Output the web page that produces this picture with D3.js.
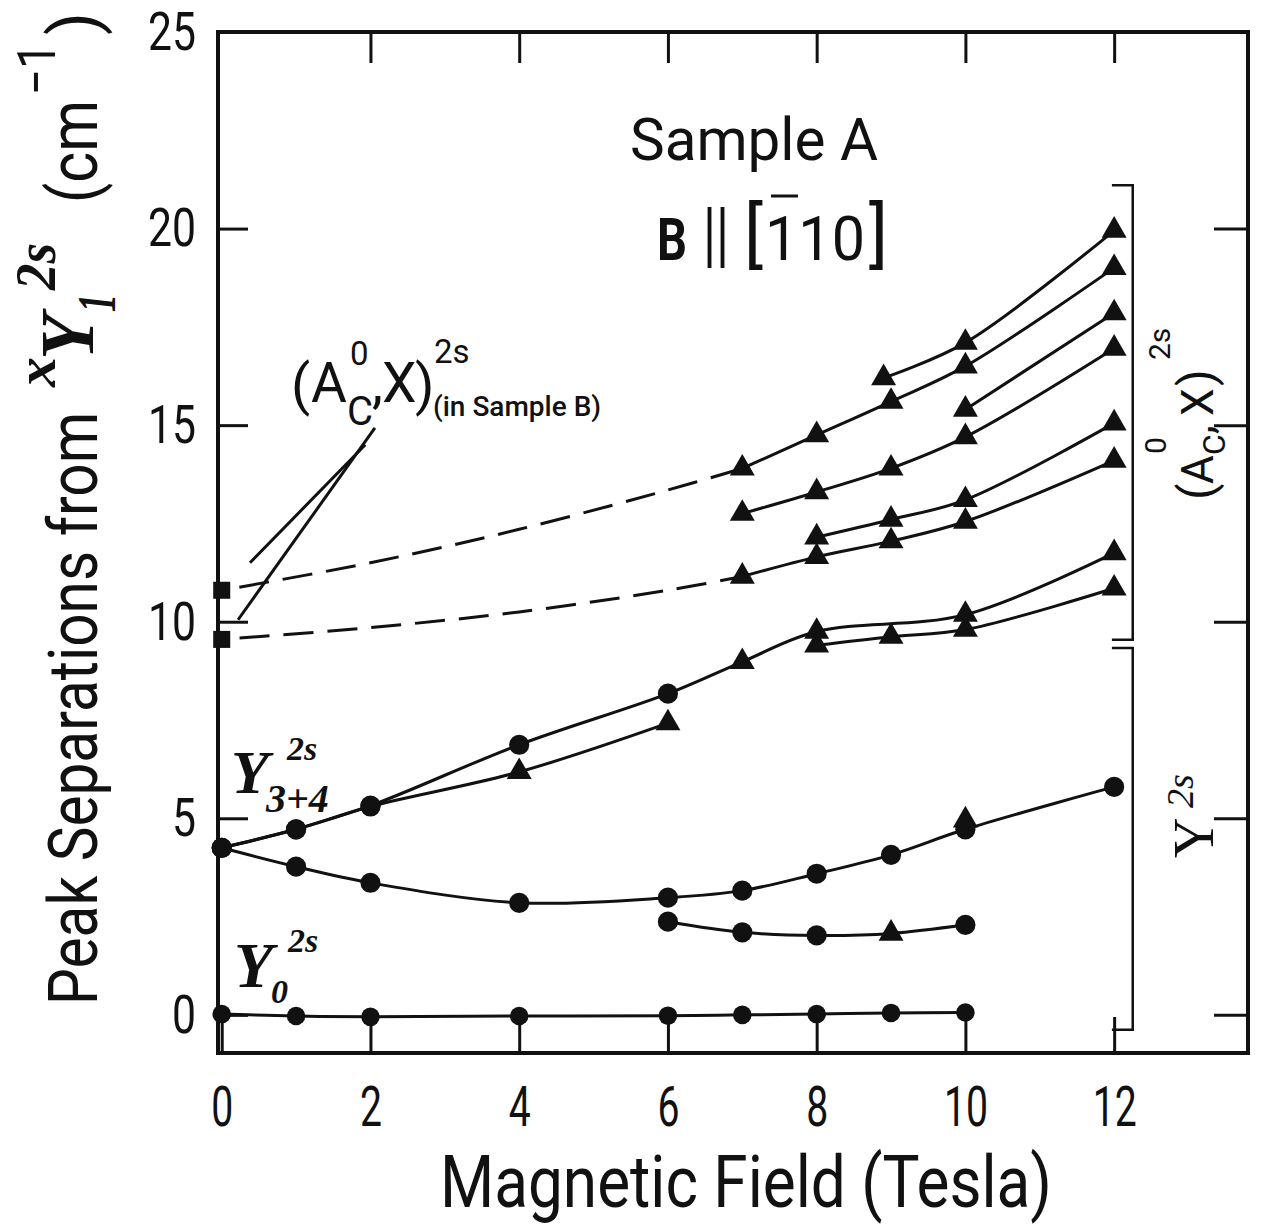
<!DOCTYPE html>
<html><head><meta charset="utf-8">
<script src="https://cdn.jsdelivr.net/npm/d3@7"></script>
<style>body{margin:0;background:#fff}</style>
</head><body>
<svg id="chart" width="1263" height="1230"></svg>
<script>
// ---------------- data ----------------
const xTicks = [0, 2, 4, 6, 8, 10, 12];
const yTicks = [0, 5, 10, 15, 20, 25];

// Y0 2s
const fieldY0 = [0, 1, 2, 4, 6, 7, 8, 9, 10];
const sepY0   = [0.02, -0.03, -0.05, -0.03, -0.02, 0.0, 0.02, 0.05, 0.06];

// lower Y 2s branch
const fieldYlow = [0, 1, 2, 4, 6, 7, 8, 9, 10, 12];
const sepYlow   = [4.25, 3.77, 3.36, 2.85, 2.98, 3.16, 3.59, 4.07, 4.72, 5.8];

const fieldYlow2 = [6, 7, 8, 9, 10];
const sepYlow2   = [2.37, 2.1, 2.02, 2.07, 2.29];
const markYlow2  = ["c", "c", "c", "t", "c"];

// Y3+4 2s branches
const fieldY34a = [0, 1, 2, 4, 6, 7, 8, 10, 12];
const sepY34a   = [4.25, 4.72, 5.32, 6.87, 8.17, 8.98, 9.75, 10.18, 11.75];
const markY34a  = ["c", "c", "c", "c", "c", "t", "t", "t", "t"];

const fieldY34b = [0, 1, 2, 4, 6];
const sepY34b   = [4.25, 4.72, 5.3, 6.18, 7.42];
const markY34b  = ["c", "c", "c", "t", "t"];

const fieldY34c = [8, 9, 10, 12];
const sepY34c   = [9.4, 9.62, 9.8, 10.85];

// (A_C^0,X) 2s lines (Sample A, triangles)
const fieldAX1 = [8.9, 10, 12];        const sepAX1 = [16.2, 17.1, 19.95];
const fieldAX2 = [7, 8, 9, 10, 12];    const sepAX2 = [13.9, 14.75, 15.6, 16.5, 19.0];
const fieldAX3 = [10, 12];             const sepAX3 = [15.4, 17.85];
const fieldAX4 = [7, 8, 9, 10, 12];    const sepAX4 = [12.75, 13.3, 13.9, 14.7, 16.95];
const fieldAX5 = [8, 9, 10, 12];       const sepAX5 = [12.15, 12.6, 13.1, 15.05];
const fieldAX6 = [7, 8, 9, 10, 12];    const sepAX6 = [11.15, 11.65, 12.05, 12.55, 14.1];

// dashed (Sample B) traces
const fieldDashU = [0, 2, 4, 6, 7];    const sepDashU = [10.8, 11.5, 12.35, 13.35, 13.9];
const fieldDashL = [0, 2, 4, 6, 7];    const sepDashL = [9.55, 9.85, 10.25, 10.8, 11.15];
const fieldSqB = [0, 0];               const sepSqB = [10.8, 9.55];

// extra overlapping triangle
const fieldExtraT = [10];              const sepExtraT = [4.95];

// annotation geometry (data units)
const pointer1 = [[0.38, 11.5], [1.93, 14.5]];
const pointer2 = [[0.22, 10.05], [2.06, 14.93]];
const bracketUpper = [21.1, 9.54];
const bracketLower = [9.33, -0.38];
const bracketX = [11.97, 12.25];

// ---------------- chart ----------------
const svg = d3.select("#chart");
const INK = "#111";
const SANS = "Roboto, 'Open Sans', sans-serif";
const SERIF = "'Liberation Serif', 'DejaVu Serif', serif";

const x = d3.scaleLinear().domain([-0.05, 13.8]).range([218, 1248]);
const y = d3.scaleLinear().domain([-0.97, 25]).range([1053, 32]);

const zip = (xs, ys, ms) => xs.map((v, i) => ({ x: v, y: ys[i], m: ms ? ms[i] : null }));

// axes
const axStyle = g => {
  g.select(".domain").remove();
  g.selectAll(".tick line").attr("stroke", INK).attr("stroke-width", 3);
};
svg.append("g").attr("transform", `translate(0,${y.range()[0]})`)
  .call(d3.axisBottom(x).tickValues(xTicks).tickSize(-36).tickPadding(33).tickFormat(d3.format("d")))
  .call(axStyle)
  .call(g => g.selectAll("text").attr("font-family", SANS).attr("font-size", 56).attr("fill", INK)
      .attr("textLength", d => String(d).length * 22).attr("lengthAdjust", "spacingAndGlyphs"));
svg.append("g").attr("transform", `translate(0,${y.range()[1]})`)
  .call(d3.axisTop(x).tickValues(xTicks.slice(1)).tickSize(-31).tickFormat(""))
  .call(axStyle);
svg.append("g").attr("transform", `translate(${x.range()[0]},0)`)
  .call(d3.axisLeft(y).tickValues(yTicks).tickSize(-30).tickPadding(22).tickFormat(d3.format("d")))
  .call(axStyle)
  .call(g => g.selectAll("text").attr("font-family", SANS).attr("font-size", 54).attr("fill", INK)
      .attr("textLength", d => String(d).length * 24).attr("lengthAdjust", "spacingAndGlyphs"));
svg.append("g").attr("transform", `translate(${x.range()[1]},0)`)
  .call(d3.axisRight(y).tickValues(yTicks.slice(0, 5)).tickSize(-34).tickFormat(""))
  .call(axStyle);

// frame
svg.append("rect").attr("x", x.range()[0]).attr("y", y.range()[1])
  .attr("width", x.range()[1] - x.range()[0]).attr("height", y.range()[0] - y.range()[1])
  .attr("fill", "none").attr("stroke", INK).attr("stroke-width", 4);

// lines
const line = d3.line().x(d => x(d.x)).y(d => y(d.y)).curve(d3.curveCatmullRom.alpha(0.5));
const solidSeries = [
  zip(fieldY0, sepY0), zip(fieldYlow, sepYlow), zip(fieldYlow2, sepYlow2),
  zip(fieldY34a, sepY34a), zip(fieldY34b, sepY34b), zip(fieldY34c, sepY34c),
  zip(fieldAX1, sepAX1), zip(fieldAX2, sepAX2), zip(fieldAX3, sepAX3),
  zip(fieldAX4, sepAX4), zip(fieldAX5, sepAX5), zip(fieldAX6, sepAX6)
];
svg.append("g").selectAll("path").data(solidSeries).join("path")
  .attr("d", line).attr("fill", "none").attr("stroke", INK).attr("stroke-width", 3);
svg.append("g").selectAll("path").data([zip(fieldDashU, sepDashU), zip(fieldDashL, sepDashL)]).join("path")
  .attr("d", line).attr("fill", "none").attr("stroke", INK).attr("stroke-width", 3)
  .attr("stroke-dasharray", "30 14").attr("stroke-dashoffset", -18);

// markers
const symC = d3.symbol().type(d3.symbolCircle).size(320);
const symCs = d3.symbol().type(d3.symbolCircle).size(270);
const symT = d3.symbol().type(d3.symbolTriangle).size(270);
const symS = d3.symbol().type(d3.symbolSquare).size(290);
const mk = (data, defType) => {
  svg.append("g").selectAll("path").data(data).join("path")
    .attr("transform", d => `translate(${x(d.x)},${y(d.y)})`)
    .attr("d", d => {
      const t = d.m || defType;
      return t === "t" ? symT() : t === "s" ? symS() : t === "cs" ? symCs() : symC();
    })
    .attr("fill", INK);
};
mk(zip(fieldY0, sepY0), "cs");
mk(zip(fieldYlow, sepYlow), "c");
mk(zip(fieldYlow2, sepYlow2, markYlow2), "c");
mk(zip(fieldY34a, sepY34a, markY34a), "c");
mk(zip(fieldY34b, sepY34b, markY34b), "c");
mk(zip(fieldY34c, sepY34c), "t");
[[fieldAX1, sepAX1], [fieldAX2, sepAX2], [fieldAX3, sepAX3], [fieldAX4, sepAX4], [fieldAX5, sepAX5], [fieldAX6, sepAX6]]
  .forEach(([f, s]) => mk(zip(f, s), "t"));
mk(zip(fieldSqB, sepSqB), "s");
mk(zip(fieldExtraT, sepExtraT), "t");

// pointer lines
svg.append("g").selectAll("line").data([pointer1, pointer2]).join("line")
  .attr("x1", d => x(d[0][0])).attr("y1", d => y(d[0][1]))
  .attr("x2", d => x(d[1][0])).attr("y2", d => y(d[1][1]))
  .attr("stroke", INK).attr("stroke-width", 3);

// brackets
[bracketUpper, bracketLower].forEach(b => {
  svg.append("path")
    .attr("d", `M${x(bracketX[0])},${y(b[0])}H${x(bracketX[1])}V${y(b[1])}H${x(bracketX[0])}`)
    .attr("fill", "none").attr("stroke", INK).attr("stroke-width", 2.5);
});

// text helpers
function txt(parent, s, px, py, o = {}) {
  const t = parent.append("text").attr("x", px).attr("y", py).text(s)
    .attr("font-family", o.family || SANS).attr("font-size", o.size || 50)
    .attr("fill", INK);
  if (o.weight) t.attr("font-weight", o.weight);
  if (o.style) t.attr("font-style", o.style);
  if (o.len) t.attr("textLength", o.len).attr("lengthAdjust", "spacingAndGlyphs");
  if (o.anchor) t.attr("text-anchor", o.anchor);
  return t;
}
// one text element, pieces placed with tspans
function rich(parent, parts, base = {}) {
  const t = parent.append("text").attr("fill", INK)
    .attr("font-family", base.family || SANS).attr("font-size", base.size || 50);
  if (base.weight) t.attr("font-weight", base.weight);
  if (base.style) t.attr("font-style", base.style);
  parts.forEach(p => {
    const s = t.append("tspan").attr("x", p.x).attr("y", p.y).text(p.t);
    if (p.size) s.attr("font-size", p.size);
    if (p.weight) s.attr("font-weight", p.weight);
    if (p.style) s.attr("font-style", p.style);
  });
  return t;
}
const BI = { family: SERIF, weight: "bold", style: "italic" };

// y-axis label
const gy = svg.append("g").attr("transform", "translate(97,1005) rotate(-90)");
txt(gy, "Peak Separations from", 0, 0, { size: 68, len: 593 });
txt(gy, "x", 618, -42, { ...BI, size: 58, len: 30 });
txt(gy, "Y", 645, -4, { ...BI, size: 76, len: 46 });
txt(gy, "1", 693, 18, { ...BI, size: 54, len: 18 });
txt(gy, "2s", 715, -42, { ...BI, size: 56, len: 47 });
txt(gy, "(cm", 802, 0, { size: 68, len: 103 });
txt(gy, "\u22121", 910, -42, { size: 54, len: 52 });
txt(gy, ")", 970, 0, { size: 66 });

// x-axis label
txt(svg, "Magnetic Field (Tesla)", 440, 1207, { size: 73, len: 612 });

// Sample A / B||[-110]
txt(svg, "Sample A", 630, 160, { size: 60, len: 248 });
txt(svg, "B", 657, 260, { size: 60, weight: "bold", len: 30 });
txt(svg, "||", 703, 259, { size: 72, len: 26 });
txt(svg, "[", 744, 259, { size: 72 });
txt(svg, "110", 765, 260, { size: 62, len: 100 });
svg.append("line").attr("x1", 771).attr("x2", 798).attr("y1", 196).attr("y2", 196)
  .attr("stroke", INK).attr("stroke-width", 3);
txt(svg, "]", 869, 259, { size: 72 });

// (A_C^0,X)^2s (in Sample B)
rich(svg, [
  { t: "(", x: 291, y: 404, size: 56 },
  { t: "A", x: 311, y: 402 },
  { t: "0", x: 350, y: 365, size: 33 },
  { t: "C", x: 347, y: 425, size: 40 },
  { t: ",", x: 372, y: 402 },
  { t: "X", x: 382, y: 402 },
  { t: ")", x: 415, y: 404, size: 56 },
  { t: "2s", x: 434, y: 363, size: 33 },
  { t: "(in Sample B)", x: 433, y: 416, size: 28, weight: 500 }
], { size: 55 });

// Y labels inside plot
rich(svg, [
  { t: "Y", x: 231, y: 793 },
  { t: "2s", x: 287, y: 760, size: 34 },
  { t: "3+4", x: 266, y: 812, size: 40 }
], { ...BI, size: 62 });
rich(svg, [
  { t: "Y", x: 234, y: 987 },
  { t: "2s", x: 288, y: 952, size: 34 },
  { t: "0", x: 271, y: 1003, size: 34 }
], { ...BI, size: 64 });

// right bracket labels (rotated)
const gr1 = svg.append("g").attr("transform", "translate(1213,500) rotate(-90)");
rich(gr1, [
  { t: "(", x: 0, y: 0, size: 48 },
  { t: "A", x: 16, y: 0 },
  { t: "0", x: 46, y: -47, size: 30 },
  { t: "C", x: 45, y: 12, size: 32 },
  { t: ",", x: 66, y: 0 },
  { t: "X", x: 84, y: 0 },
  { t: ")", x: 114, y: 0, size: 48 },
  { t: "2s", x: 140, y: -43, size: 30 }
], { size: 44 });

const gr2 = svg.append("g").attr("transform", "translate(1213,858) rotate(-90)");
rich(gr2, [
  { t: "Y", x: 0, y: 0 },
  { t: "2s", x: 50, y: -20, size: 38, style: "italic" }
], { family: SERIF, size: 56 });
</script>
</body></html>
